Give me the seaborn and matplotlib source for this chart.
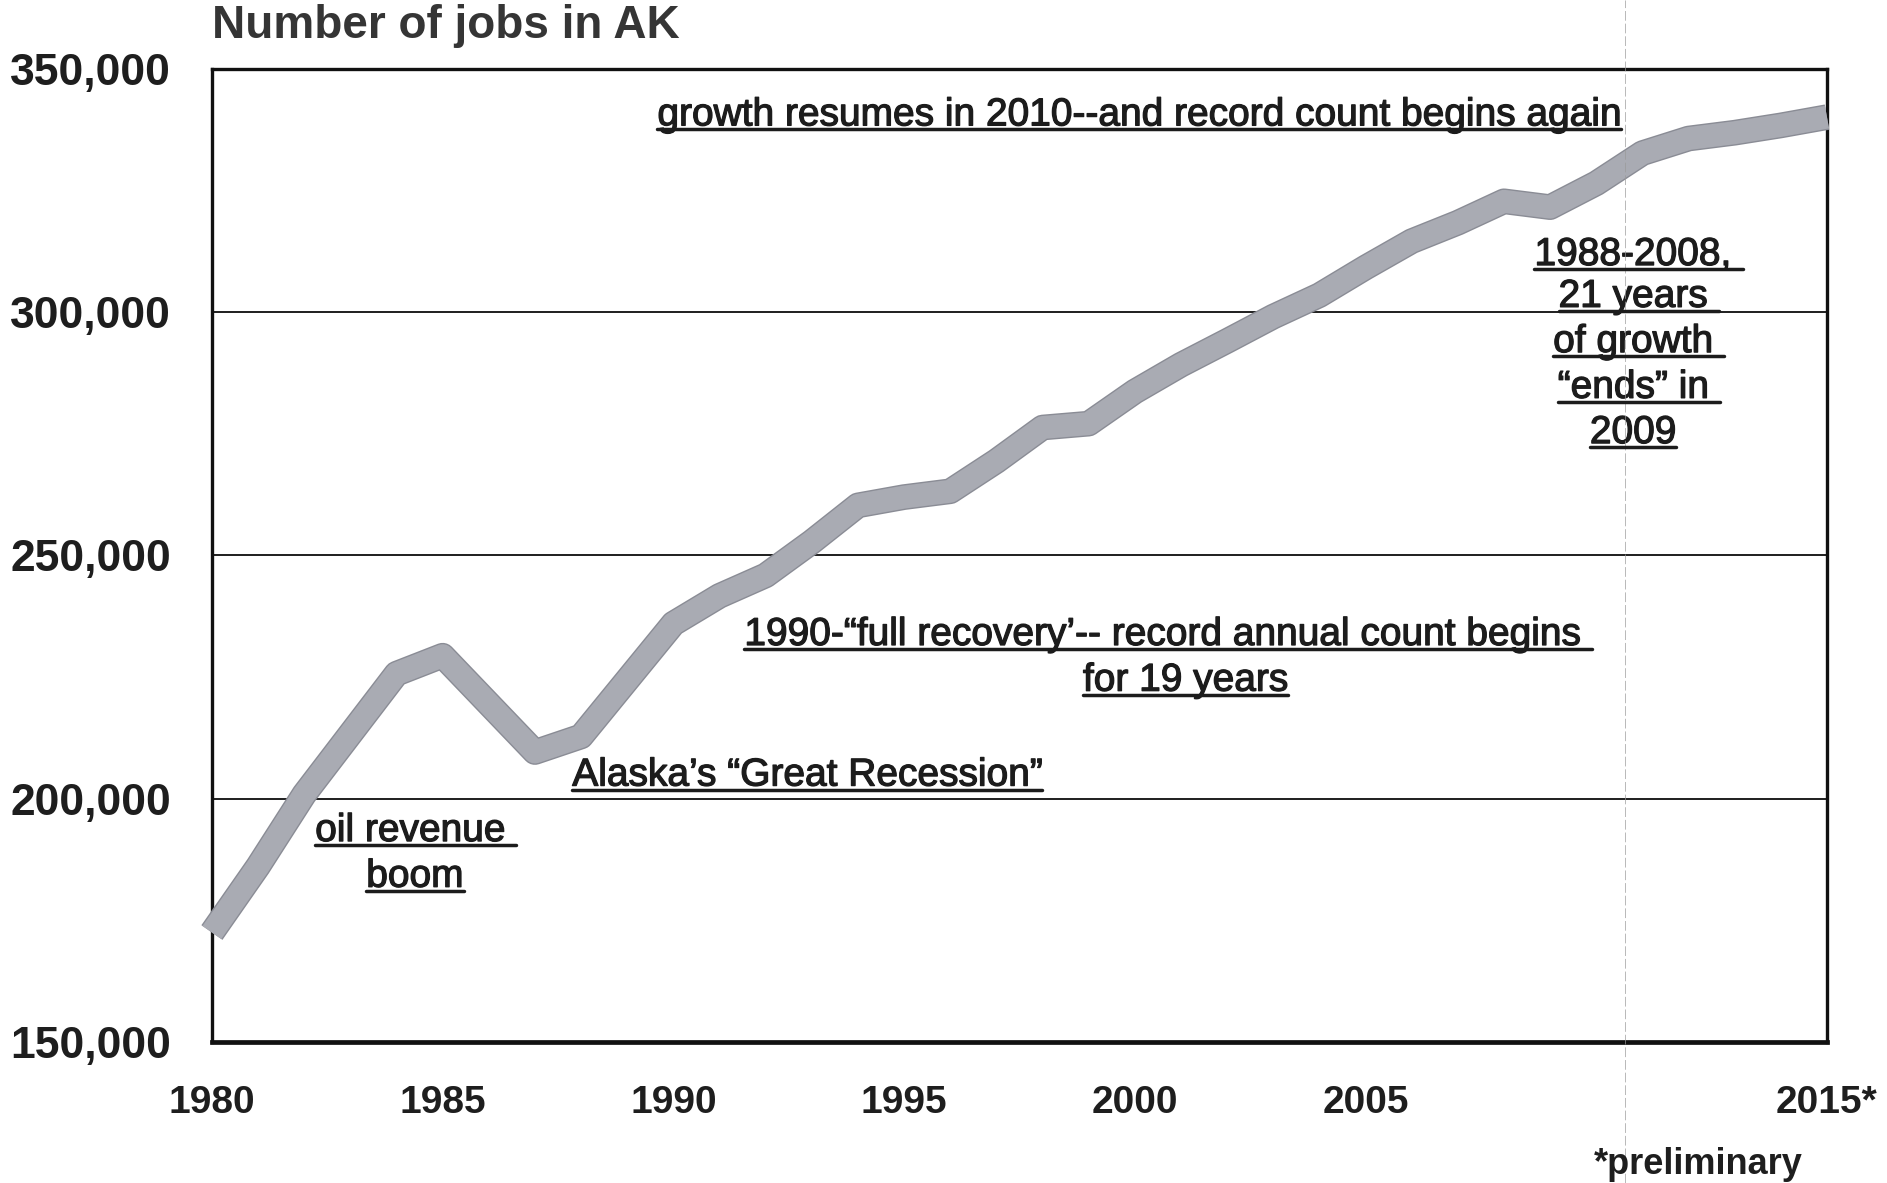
import matplotlib
matplotlib.use("Agg")
import matplotlib.pyplot as plt
import matplotlib.patheffects as pe
from matplotlib.lines import Line2D
from matplotlib.ticker import FuncFormatter
import pandas as pd
import seaborn as sns

# Annual wage-and-salary job count in Alaska
years = list(range(1980, 2016))
jobs = [172500, 186100, 200900, 213300, 225700, 229400, 219500, 209600, 212800, 224400,
        236000, 241700, 245900, 252800, 260300, 262000, 263200, 269400, 276300, 277100,
        283700, 289200, 294100, 299100, 303500, 309200, 314600, 318400, 322800, 321600,
        326500, 332700, 335700, 336900, 338400, 340100]

y_ticks = [150000, 200000, 250000, 300000, 350000]
x_label_years = {1980: "1980", 1985: "1985", 1990: "1990", 1995: "1995",
                 2000: "2000", 2005: "2005", 2015: "2015*"}

# Underlined call-outs: text, x (year), baseline (jobs)
note_texts = ["growth resumes in 2010--and record count begins again",
              "1988-2008,", "21 years", "of growth", "\u201cends\u201d in", "2009",
              "1990-\u201cfull recovery\u2019-- record annual count begins",
              "for 19 years",
              "Alaska\u2019s \u201cGreat Recession\u201d",
              "oil revenue", "boom"]
note_x = [2000.1, 2010.8, 2010.8, 2010.8, 2010.8, 2010.8, 2000.6, 2001.1, 1992.9, 1984.3, 1984.4]
note_y = [338400, 309700, 301100, 291800, 282400, 273100, 231600, 222200, 202700, 191300, 181900]
# extra underline length past the last glyph, in em (trailing space)
note_tail = [0.0, 0.28, 0.28, 0.28, 0.28, 0.0, 0.28, 0.0, 0.0, 0.28, 0.0]

sns.set_theme(style="white")
plt.rcParams["font.family"] = ["Liberation Sans", "DejaVu Sans"]

fig = plt.figure(figsize=(18.87, 11.83), dpi=100)
ax = fig.add_axes([0.1123, 0.1192, 0.8559, 0.8225])

df = pd.DataFrame({"year": years, "jobs": jobs})
sns.lineplot(data=df, x="year", y="jobs", ax=ax, color="#a9abb3", linewidth=16.5,
             solid_joinstyle="round", solid_capstyle="butt", clip_on=False, zorder=4,
             path_effects=[pe.Stroke(linewidth=18.5, foreground="#8a8c95"), pe.Normal()])

ax.set_xlim(1980, 2015)
ax.set_ylim(150000, 350000)
ax.set_xlabel("")
ax.set_ylabel("")

ax.set_yticks(y_ticks)
ax.yaxis.set_major_formatter(FuncFormatter(lambda v, p: f"{int(v):,}"))
ax.set_xticks(years)
ax.set_xticklabels([x_label_years.get(y, "") for y in years])

ax.yaxis.grid(True, color="#1e1e1e", linewidth=1.4)
ax.xaxis.grid(False)
for side, sp in ax.spines.items():
    sp.set_visible(True)
    sp.set_color("#111111")
    sp.set_linewidth(2.4)
ax.spines["bottom"].set_linewidth(3.4)

ax.tick_params(axis="x", which="major", direction="out", length=17, width=1.7,
               color="#111111", pad=14, labelsize=28, labelcolor="#1e1e1e")
ax.tick_params(axis="y", length=0, pad=29.5, labelsize=32, labelcolor="#1e1e1e")
for lab in ax.get_xticklabels() + ax.get_yticklabels():
    lab.set_fontweight("bold")

fig.text(0.1123, 0.978, "Number of jobs in AK", fontsize=33, fontweight="bold",
         color="#353535", ha="left", va="center")
fig.text(0.8998, 0.016, "*preliminary", fontsize=26, fontweight="bold",
         color="#1e1e1e", ha="center", va="center")

# faint vertical mark through the chart
fig.add_artist(Line2D([0.861, 0.861], [0.0, 1.0], transform=fig.transFigure,
                      color="#9a9a9a", linewidth=0.7, linestyle=(0, (10, 3)), alpha=0.7))

note_size = 28
note_color = "#1c1c1c"
texts = []
for t, x, y in zip(note_texts, note_x, note_y):
    texts.append(ax.text(x, y, t, fontsize=note_size, color=note_color,
                         ha="center", va="baseline", zorder=6,
                         path_effects=[pe.withStroke(linewidth=0.9, foreground=note_color)]))

fig.canvas.draw()
renderer = fig.canvas.get_renderer()
em_px = note_size * fig.dpi / 72.0
inv = fig.transFigure.inverted()
for t, x, y, tail in zip(texts, note_x, note_y, note_tail):
    bb = t.get_window_extent(renderer)
    base = ax.transData.transform((x, y))[1]
    yu = base - 4
    x0, x1 = bb.x0, bb.x1 + tail * em_px
    (fx0, fy), (fx1, _) = inv.transform([(x0, yu), (x1, yu)])
    fig.add_artist(Line2D([fx0, fx1], [fy, fy], transform=fig.transFigure,
                          color=note_color, linewidth=2.5, zorder=6))

fig.savefig("out.png", dpi=100, facecolor="white")
